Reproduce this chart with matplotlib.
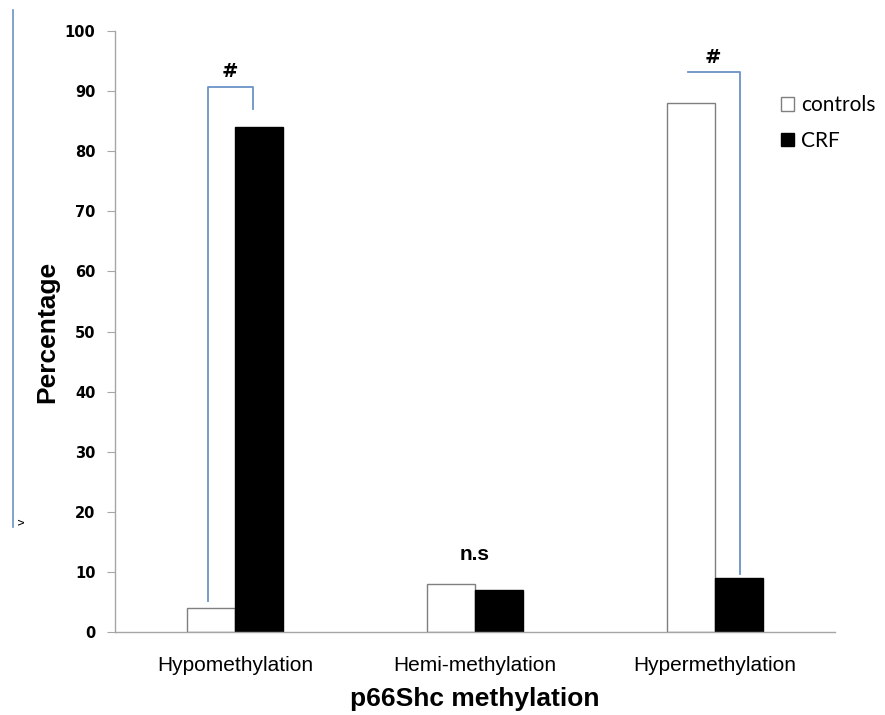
import matplotlib
matplotlib.use("Agg")
import matplotlib.pyplot as plt
import numpy as np
from matplotlib.lines import Line2D

categories = ["Hypomethylation", "Hemi-methylation", "Hypermethylation"]
controls = [4, 8, 88]
crf = [84, 7, 9]
yticks = [0, 10, 20, 30, 40, 50, 60, 70, 80, 90, 100]

blue = "#6b93c6"
gray = "#a6a6a6"

fig = plt.figure(figsize=(8.85, 7.15), dpi=100)
ax = fig.add_axes([115/885, 83/715, 720/885, 601/715])

x = np.arange(len(categories))
w = 0.2
ax.bar(x - w/2, controls, width=w, facecolor="white", edgecolor="#7f7f7f", linewidth=1.0, label="controls")
ax.bar(x + w/2, crf, width=w, facecolor="black", edgecolor="black", linewidth=1.0, label="CRF")

ax.set_xlim(-0.5, 2.5)
ax.set_ylim(0, 100)
ax.set_yticks(yticks)
ax.set_yticklabels([str(t) for t in yticks], fontfamily="DejaVu Sans", fontweight="bold", fontsize=10.5)
ax.set_xticks(x)
ax.set_xticklabels(categories, fontfamily="Liberation Sans", fontsize=15)
ax.tick_params(axis="x", length=0, pad=17)
ax.tick_params(axis="y", length=6, color=gray, pad=8, direction="out")
for s in ["top", "right"]:
    ax.spines[s].set_visible(False)
for s in ["left", "bottom"]:
    ax.spines[s].set_color(gray)
    ax.spines[s].set_linewidth(1.0)

ax.set_xlabel("p66Shc methylation", fontfamily="Liberation Sans", fontweight="bold", fontsize=19, labelpad=9)
ax.set_ylabel("Percentage", fontfamily="Liberation Sans", fontweight="bold", fontsize=19, labelpad=4)

# significance brackets
ax.plot([-0.1125, -0.1125, 0.075, 0.075], [5.2, 90.7, 90.7, 87.0], color=blue, lw=1.3, clip_on=False)
ax.text(-0.02, 93.3, "#", ha="center", va="center", fontsize=14, fontweight="bold", fontfamily="DejaVu Sans")
ax.plot([1.8875, 2.104, 2.104], [93.1, 93.1, 9.6], color=blue, lw=1.3, clip_on=False)
ax.text(1.99, 95.6, "#", ha="center", va="center", fontsize=14, fontweight="bold", fontfamily="DejaVu Sans")
ax.text(1.0, 12.9, "n.s", ha="center", va="center", fontsize=15, fontweight="bold", fontfamily="Liberation Sans")

# legend
ax.legend(loc="upper left", bbox_to_anchor=((773 - 115)/720, (715 - 87 - 83)/601), frameon=False,
          prop={"family": "Lato", "size": 15}, handlelength=0.6, handleheight=0.6,
          handletextpad=0.35, labelspacing=0.75, borderaxespad=0)

# decorative left line and mark
fig.add_artist(Line2D([13/885, 13/885], [1 - 10/715, 1 - 527/715], color=blue, lw=1.2))
fig.text(22/885, 1 - 522/715, "v", fontsize=8, ha="center", va="center", rotation=90)

fig.savefig("out.png", dpi=100)
